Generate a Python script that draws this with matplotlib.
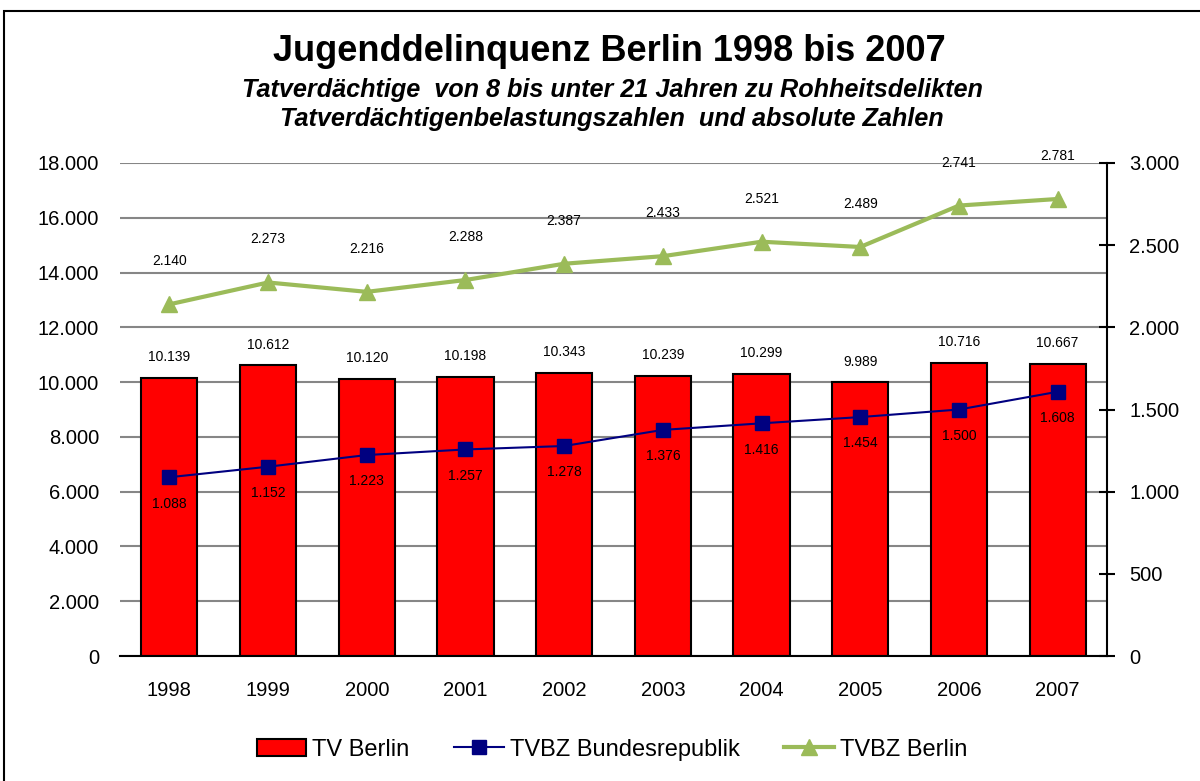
import matplotlib
matplotlib.use("Agg")
import matplotlib.pyplot as plt
from matplotlib.patches import Rectangle
from matplotlib.ticker import FuncFormatter, MultipleLocator

years = ["1998", "1999", "2000", "2001", "2002", "2003", "2004", "2005", "2006", "2007"]
tv_berlin = [10139, 10612, 10120, 10198, 10343, 10239, 10299, 9989, 10716, 10667]
tvbz_brd = [1088, 1152, 1223, 1257, 1278, 1376, 1416, 1454, 1500, 1608]
tvbz_berlin = [2140, 2273, 2216, 2288, 2387, 2433, 2521, 2489, 2741, 2781]


def de_fmt(v, pos=None):
    return f"{int(round(v)):,}".replace(",", ".")


plt.rcParams["font.family"] = ["Liberation Sans", "DejaVu Sans"]

fig = plt.figure(figsize=(12, 7.81), dpi=100)
ax = fig.add_axes([0.1, 0.16, 0.8225, 0.6313])
ax2 = ax.twinx()

x = list(range(len(years)))

ax.bar(x, tv_berlin, width=0.57, color="#FF0000", edgecolor="black",
       linewidth=1.5, label="TV Berlin", zorder=2)
ax.set_ylim(0, 18000)
ax.set_xlim(-0.5, 9.5)
ax.yaxis.set_major_locator(MultipleLocator(2000))
ax.yaxis.set_major_formatter(FuncFormatter(de_fmt))
ax.set_axisbelow(True)
ax.grid(axis="y", color="#868686", linewidth=1.5)
ax.set_xticks(x)
ax.set_xticklabels(years)
ax.tick_params(axis="x", length=0, pad=18, labelsize=14.5)
ax.tick_params(axis="y", length=0, pad=15, labelsize=14.5)
for s in ["top", "left", "right"]:
    ax.spines[s].set_visible(False)
ax.spines["bottom"].set_linewidth(1.5)

for xi, v in zip(x, tv_berlin):
    ax.annotate(de_fmt(v), (xi, v), xytext=(0, 15), textcoords="offset points",
                ha="center", va="center", fontsize=10)

ax2.plot(x, tvbz_brd, color="#000080", linewidth=1.5, marker="s", markersize=10,
         label="TVBZ Bundesrepublik", zorder=3)
ax2.plot(x, tvbz_berlin, color="#9BBB59", linewidth=3, marker="^", markersize=11,
         label="TVBZ Berlin", zorder=3)
ax2.set_ylim(0, 3000)
ax2.yaxis.set_major_locator(MultipleLocator(500))
ax2.yaxis.set_major_formatter(FuncFormatter(de_fmt))
ax2.tick_params(axis="y", direction="inout", length=12, width=1.5, pad=10, labelsize=14.5)
for s in ["top", "left", "bottom"]:
    ax2.spines[s].set_visible(False)
ax2.spines["right"].set_linewidth(1.5)

for xi, v in zip(x, tvbz_brd):
    ax2.annotate(de_fmt(v), (xi, v), xytext=(0, -19), textcoords="offset points",
                 ha="center", va="center", fontsize=10)
for xi, v in zip(x, tvbz_berlin):
    ax2.annotate(de_fmt(v), (xi, v), xytext=(0, 31), textcoords="offset points",
                 ha="center", va="center", fontsize=10)

# titles
fig.text(0.508, 0.934, "Jugenddelinquenz Berlin 1998 bis 2007", ha="center", va="center",
         fontsize=26, fontweight="bold")
fig.text(0.51, 0.885, "Tatverdächtige  von 8 bis unter 21 Jahren zu Rohheitsdelikten",
         ha="center", va="center", fontsize=18.2, fontweight="bold", style="italic")
fig.text(0.51, 0.847, "Tatverdächtigenbelastungszahlen  und absolute Zahlen",
         ha="center", va="center", fontsize=18.2, fontweight="bold", style="italic")

h1, l1 = ax.get_legend_handles_labels()
h2, l2 = ax2.get_legend_handles_labels()
fig.legend(h1 + h2, l1 + l2, loc="center", bbox_to_anchor=(0.51, 0.04), ncol=3,
           frameon=False, fontsize=17, handlelength=2.1, handletextpad=0.25,
           columnspacing=1.9)

# outer frame
fig.patches.append(Rectangle((4 / 1200, -0.1), 1.2, 1.1 - 11 / 781, transform=fig.transFigure,
                             fill=False, edgecolor="black", linewidth=1.5))

fig.savefig("out.png", dpi=100)
